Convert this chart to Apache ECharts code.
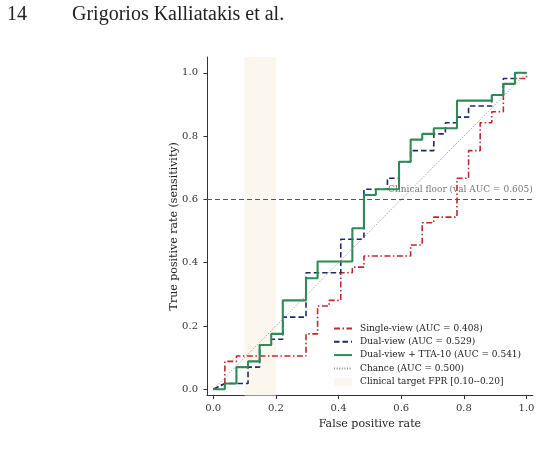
<!DOCTYPE html>
<html>
<head>
<meta charset="utf-8">
<script src="https://cdn.jsdelivr.net/npm/echarts@6/dist/echarts.min.js"></script>
<style>
html,body{margin:0;padding:0;background:#fff;}
#c{width:540px;height:464px;}
</style>
</head>
<body>
<div id="c"></div>
<script>
// ---- Data ----
const seriesNames = [
  'Single-view (AUC = 0.408)',
  'Dual-view (AUC = 0.529)',
  'Dual-view + TTA-10 (AUC = 0.541)',
  'Chance (AUC = 0.500)',
  'Clinical target FPR [0.10--0.20]'
];
const singleFpr = [0,0.037,0.037,0.074,0.074,0.296,0.296,0.333,0.333,0.370,0.370,0.407,0.407,0.444,0.444,0.481,0.481,0.630,0.630,0.667,0.667,0.704,0.704,0.778,0.778,0.815,0.815,0.852,0.852,0.889,0.889,0.926,0.926,0.963,0.963,1.0,1.0];
const singleTpr = [0,0.018,0.088,0.088,0.105,0.105,0.175,0.175,0.263,0.263,0.281,0.281,0.368,0.368,0.386,0.386,0.421,0.421,0.456,0.456,0.526,0.526,0.544,0.544,0.667,0.667,0.754,0.754,0.842,0.842,0.877,0.877,0.965,0.965,0.982,0.982,1.0];
const dualFpr = [0,0.037,0.111,0.111,0.148,0.148,0.185,0.185,0.222,0.222,0.296,0.296,0.407,0.407,0.481,0.481,0.556,0.556,0.593,0.593,0.630,0.630,0.704,0.704,0.741,0.741,0.778,0.778,0.815,0.815,0.889,0.889,0.926,0.926,0.963,0.963,1.0];
const dualTpr = [0,0.018,0.018,0.070,0.070,0.140,0.140,0.158,0.158,0.228,0.228,0.368,0.368,0.474,0.474,0.632,0.632,0.667,0.667,0.719,0.719,0.754,0.754,0.807,0.807,0.842,0.842,0.860,0.860,0.895,0.895,0.930,0.930,0.982,0.982,1.0,1.0];
const ttaFpr = [0,0.037,0.037,0.074,0.074,0.111,0.111,0.148,0.148,0.185,0.185,0.222,0.222,0.296,0.296,0.333,0.333,0.444,0.444,0.481,0.481,0.519,0.519,0.593,0.593,0.630,0.630,0.667,0.667,0.704,0.704,0.778,0.778,0.889,0.889,0.926,0.926,0.963,0.963,1.0];
const ttaTpr = [0,0,0.018,0.018,0.070,0.070,0.088,0.088,0.140,0.140,0.175,0.175,0.281,0.281,0.351,0.351,0.404,0.404,0.509,0.509,0.614,0.614,0.632,0.632,0.719,0.719,0.789,0.789,0.807,0.807,0.825,0.825,0.912,0.912,0.930,0.930,0.965,0.965,1.0,1.0];
const chanceFpr = [0,1];
const chanceTpr = [0,1];
const clinicalFloor = 0.605;
const floorLabel = 'Clinical floor (val AUC = 0.605)';
const targetBand = [0.10, 0.20];
const tickValues = [0,0.2,0.4,0.6,0.8,1.0];
const xName = 'False positive rate';
const yName = 'True positive rate (sensitivity)';
const pageNumber = '14';
const runningHead = 'Grigorios Kalliatakis et al.';

// ---- Build chart ----
const FONT = 'DejaVu Serif';
const pts = (xs, ys) => xs.map((x, i) => [x, ys[i]]);
const colors = {red:'#c0282d', blue:'#1f2a6e', green:'#2e8b57', gray:'#8f8f8f', band:'#fbf7ee'};
const hidden = {color:'rgba(0,0,0,0)', borderColor:'rgba(0,0,0,0)', borderWidth:0, opacity:0};

const axisCommon = {
  type:'value',
  axisLine:{show:true, onZero:false, lineStyle:{color:'#333', width:1}},
  axisTick:{show:true, inside:false, length:3.5, lineStyle:{color:'#333', width:1}, customValues: tickValues},
  axisLabel:{fontFamily:FONT, fontSize:10, color:'#333', customValues: tickValues, formatter:v=>v.toFixed(1)},
  splitLine:{show:false},
  nameLocation:'middle',
  nameTextStyle:{fontFamily:FONT, fontSize:11, color:'#222'}
};

const chart = echarts.init(document.getElementById('c'), null, {renderer:'canvas'});
chart.setOption({
  animation:false,
  backgroundColor:'#fff',
  graphic:[
    {type:'text', left:7, top:5, style:{text:pageNumber, font:'20px "Liberation Serif"', fill:'#222'}},
    {type:'text', left:72, top:5, style:{text:runningHead, font:'20px "Liberation Serif"', fill:'#222'}}
  ],
  grid:{left:207, right:7.2, top:57, bottom:68.4, containLabel:false},
  xAxis:Object.assign({}, axisCommon, {min:-0.02, max:1.02, name:xName, nameGap:20,
    axisLabel:Object.assign({}, axisCommon.axisLabel, {margin:8})}),
  yAxis:Object.assign({}, axisCommon, {min:-0.02, max:1.05, name:yName, nameGap:27, nameMoveOverlap:false,
    axisLabel:Object.assign({}, axisCommon.axisLabel, {margin:9})}),
  legend:{
    orient:'vertical', left:333, top:323, padding:0,
    itemWidth:18, itemHeight:8, itemGap:2.3,
    textStyle:{fontFamily:FONT, fontSize:9, color:'#222', lineHeight:11, padding:[0,0,0,3]},
    data:[
      {name:seriesNames[0], itemStyle:hidden},
      {name:seriesNames[1], itemStyle:hidden},
      {name:seriesNames[2], itemStyle:hidden},
      {name:seriesNames[3], itemStyle:hidden},
      {name:seriesNames[4], icon:'rect', itemStyle:{color:colors.band, borderWidth:0}}]
  },
  series:[
    {name:seriesNames[4], type:'line', data:[], symbol:'none', z:1,
      itemStyle:{color:colors.band}, lineStyle:{width:0},
      markArea:{silent:true, itemStyle:{color:colors.band}, data:[[{xAxis:targetBand[0]},{xAxis:targetBand[1]}]]},
      markLine:{silent:true, symbol:'none', lineStyle:{color:'#555', width:1, type:[5,3]},
        label:{show:true, position:'insideEndTop', formatter:floorLabel, fontFamily:FONT, fontSize:9, color:'#777', distance:[0,5]},
        data:[{yAxis:clinicalFloor}]}
    },
    {name:seriesNames[0], type:'line', data:pts(singleFpr, singleTpr), symbol:'none', z:3,
      itemStyle:{color:colors.red}, lineStyle:{color:colors.red, width:1.6, type:[6,2.5,1.5,2.5]}},
    {name:seriesNames[1], type:'line', data:pts(dualFpr, dualTpr), symbol:'none', z:4,
      itemStyle:{color:colors.blue}, lineStyle:{color:colors.blue, width:1.6, type:[5.5,3]}},
    {name:seriesNames[2], type:'line', data:pts(ttaFpr, ttaTpr), symbol:'none', z:5,
      itemStyle:{color:colors.green}, lineStyle:{color:colors.green, width:2.1}},
    {name:seriesNames[3], type:'line', data:pts(chanceFpr, chanceTpr), symbol:'none', z:6,
      itemStyle:{color:colors.gray}, lineStyle:{color:colors.gray, width:1, type:[1,1.6]}}
  ]
});
</script>
</body>
</html>
